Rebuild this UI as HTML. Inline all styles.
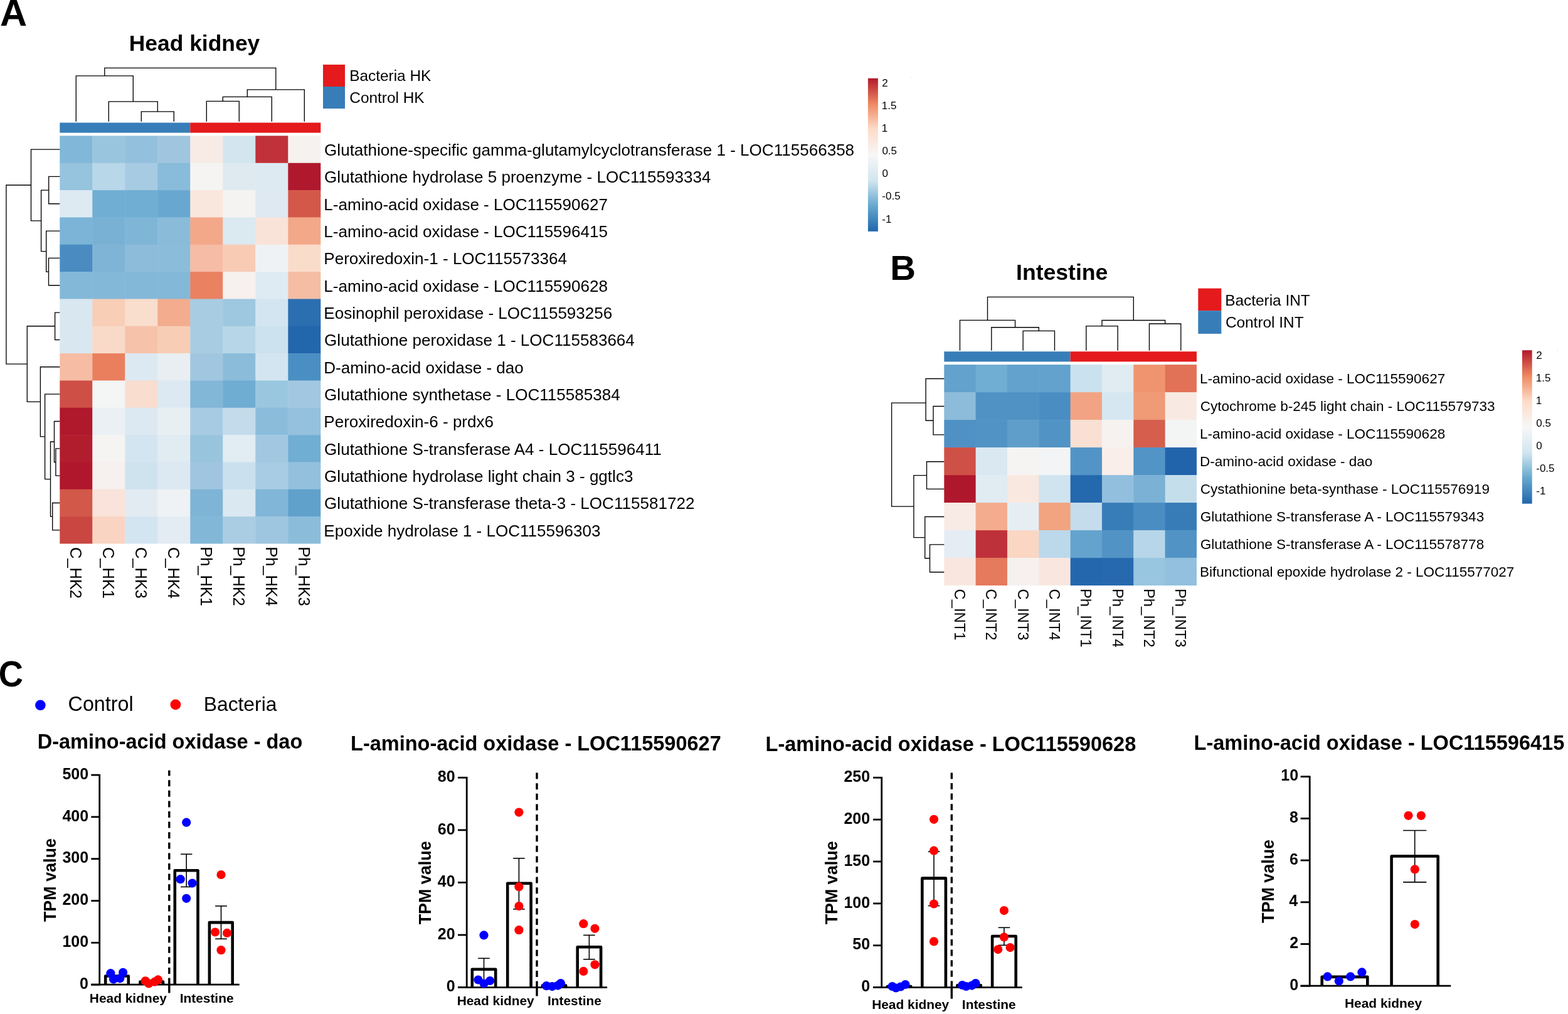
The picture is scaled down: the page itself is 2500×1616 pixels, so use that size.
<!DOCTYPE html>
<html><head><meta charset="utf-8"><title>Figure</title>
<style>html,body{margin:0;padding:0;background:#fff;} svg{display:block;}</style>
</head><body>
<svg width="2500" height="1616" viewBox="0 0 2500 1616" font-family="'Liberation Sans', Arial, Helvetica, sans-serif">
<rect x="0" y="0" width="2500" height="1616" fill="#FFFFFF"/>
<text x="0.11" y="40.6" font-size="59.7" font-weight="bold" fill="#000">A</text>
<text x="205.8" y="81.1" font-size="35.4" font-weight="bold" fill="#000">Head kidney</text>
<rect x="95.3" y="195.5" width="208" height="16.1" fill="#377EB8"/>
<rect x="303.3" y="195.5" width="208" height="16.1" fill="#E41A1C"/>
<rect x="95.3" y="216.4" width="52.5" height="43.84" fill="#81B7D8"/>
<rect x="147.3" y="216.4" width="52.5" height="43.84" fill="#9AC5DF"/>
<rect x="199.3" y="216.4" width="52.5" height="43.84" fill="#93C0DD"/>
<rect x="251.3" y="216.4" width="52.5" height="43.84" fill="#A0C6DF"/>
<rect x="303.3" y="216.4" width="52.5" height="43.84" fill="#F8EBE5"/>
<rect x="355.3" y="216.4" width="52.5" height="43.84" fill="#D3E5EF"/>
<rect x="407.3" y="216.4" width="52.5" height="43.84" fill="#C0313A"/>
<rect x="459.3" y="216.4" width="52" height="43.84" fill="#F6F2EF"/>
<rect x="95.3" y="259.74" width="52.5" height="43.84" fill="#96C3DE"/>
<rect x="147.3" y="259.74" width="52.5" height="43.84" fill="#B8D7E9"/>
<rect x="199.3" y="259.74" width="52.5" height="43.84" fill="#A7CBE2"/>
<rect x="251.3" y="259.74" width="52.5" height="43.84" fill="#89BBDA"/>
<rect x="303.3" y="259.74" width="52.5" height="43.84" fill="#F5F4F3"/>
<rect x="355.3" y="259.74" width="52.5" height="43.84" fill="#DFEAF0"/>
<rect x="407.3" y="259.74" width="52.5" height="43.84" fill="#DDEAF2"/>
<rect x="459.3" y="259.74" width="52" height="43.84" fill="#B0182D"/>
<rect x="95.3" y="303.08" width="52.5" height="43.84" fill="#DDEAF2"/>
<rect x="147.3" y="303.08" width="52.5" height="43.84" fill="#70AED4"/>
<rect x="199.3" y="303.08" width="52.5" height="43.84" fill="#70AED4"/>
<rect x="251.3" y="303.08" width="52.5" height="43.84" fill="#68A8D0"/>
<rect x="303.3" y="303.08" width="52.5" height="43.84" fill="#F9E6DD"/>
<rect x="355.3" y="303.08" width="52.5" height="43.84" fill="#F5F3F1"/>
<rect x="407.3" y="303.08" width="52.5" height="43.84" fill="#DEE9F1"/>
<rect x="459.3" y="303.08" width="52" height="43.84" fill="#D4584A"/>
<rect x="95.3" y="346.42" width="52.5" height="43.84" fill="#7BB4D6"/>
<rect x="147.3" y="346.42" width="52.5" height="43.84" fill="#78B1D4"/>
<rect x="199.3" y="346.42" width="52.5" height="43.84" fill="#7FB5D7"/>
<rect x="251.3" y="346.42" width="52.5" height="43.84" fill="#8ABCDA"/>
<rect x="303.3" y="346.42" width="52.5" height="43.84" fill="#F3A889"/>
<rect x="355.3" y="346.42" width="52.5" height="43.84" fill="#DBE9F1"/>
<rect x="407.3" y="346.42" width="52.5" height="43.84" fill="#F9E3D9"/>
<rect x="459.3" y="346.42" width="52" height="43.84" fill="#F3A889"/>
<rect x="95.3" y="389.76" width="52.5" height="43.84" fill="#4A8CC2"/>
<rect x="147.3" y="389.76" width="52.5" height="43.84" fill="#7FB4D6"/>
<rect x="199.3" y="389.76" width="52.5" height="43.84" fill="#8CBCDA"/>
<rect x="251.3" y="389.76" width="52.5" height="43.84" fill="#8BBCDA"/>
<rect x="303.3" y="389.76" width="52.5" height="43.84" fill="#F6BCA5"/>
<rect x="355.3" y="389.76" width="52.5" height="43.84" fill="#F8CBB5"/>
<rect x="407.3" y="389.76" width="52.5" height="43.84" fill="#EFF2F4"/>
<rect x="459.3" y="389.76" width="52" height="43.84" fill="#FADCCB"/>
<rect x="95.3" y="433.1" width="52.5" height="43.84" fill="#83B8D8"/>
<rect x="147.3" y="433.1" width="52.5" height="43.84" fill="#83B8D8"/>
<rect x="199.3" y="433.1" width="52.5" height="43.84" fill="#83B8D8"/>
<rect x="251.3" y="433.1" width="52.5" height="43.84" fill="#83B8D8"/>
<rect x="303.3" y="433.1" width="52.5" height="43.84" fill="#EA8161"/>
<rect x="355.3" y="433.1" width="52.5" height="43.84" fill="#F6F0EE"/>
<rect x="407.3" y="433.1" width="52.5" height="43.84" fill="#DEEBF2"/>
<rect x="459.3" y="433.1" width="52" height="43.84" fill="#F5BDA4"/>
<rect x="95.3" y="476.44" width="52.5" height="43.84" fill="#D9E7F1"/>
<rect x="147.3" y="476.44" width="52.5" height="43.84" fill="#F8CEB7"/>
<rect x="199.3" y="476.44" width="52.5" height="43.84" fill="#F9DDCD"/>
<rect x="251.3" y="476.44" width="52.5" height="43.84" fill="#F3AC8E"/>
<rect x="303.3" y="476.44" width="52.5" height="43.84" fill="#A8CCE2"/>
<rect x="355.3" y="476.44" width="52.5" height="43.84" fill="#9EC7E0"/>
<rect x="407.3" y="476.44" width="52.5" height="43.84" fill="#D3E5F0"/>
<rect x="459.3" y="476.44" width="52" height="43.84" fill="#2B6FB1"/>
<rect x="95.3" y="519.78" width="52.5" height="43.84" fill="#D9E7F1"/>
<rect x="147.3" y="519.78" width="52.5" height="43.84" fill="#F9DAC8"/>
<rect x="199.3" y="519.78" width="52.5" height="43.84" fill="#F6C3AA"/>
<rect x="251.3" y="519.78" width="52.5" height="43.84" fill="#F8CDB6"/>
<rect x="303.3" y="519.78" width="52.5" height="43.84" fill="#A8CCE2"/>
<rect x="355.3" y="519.78" width="52.5" height="43.84" fill="#B7D7E8"/>
<rect x="407.3" y="519.78" width="52.5" height="43.84" fill="#CCE2EE"/>
<rect x="459.3" y="519.78" width="52" height="43.84" fill="#2266AC"/>
<rect x="95.3" y="563.12" width="52.5" height="43.84" fill="#F6BDA4"/>
<rect x="147.3" y="563.12" width="52.5" height="43.84" fill="#EA7F5E"/>
<rect x="199.3" y="563.12" width="52.5" height="43.84" fill="#DCE9F2"/>
<rect x="251.3" y="563.12" width="52.5" height="43.84" fill="#E8EEF2"/>
<rect x="303.3" y="563.12" width="52.5" height="43.84" fill="#A1C6E0"/>
<rect x="355.3" y="563.12" width="52.5" height="43.84" fill="#8BBCDA"/>
<rect x="407.3" y="563.12" width="52.5" height="43.84" fill="#D3E5F0"/>
<rect x="459.3" y="563.12" width="52" height="43.84" fill="#4A8FC3"/>
<rect x="95.3" y="606.46" width="52.5" height="43.84" fill="#CE4F45"/>
<rect x="147.3" y="606.46" width="52.5" height="43.84" fill="#F4F5F5"/>
<rect x="199.3" y="606.46" width="52.5" height="43.84" fill="#F9DDCE"/>
<rect x="251.3" y="606.46" width="52.5" height="43.84" fill="#DDE9F2"/>
<rect x="303.3" y="606.46" width="52.5" height="43.84" fill="#83B7D8"/>
<rect x="355.3" y="606.46" width="52.5" height="43.84" fill="#6FADD3"/>
<rect x="407.3" y="606.46" width="52.5" height="43.84" fill="#9AC7E0"/>
<rect x="459.3" y="606.46" width="52" height="43.84" fill="#A2C8E1"/>
<rect x="95.3" y="649.8" width="52.5" height="43.84" fill="#B0182C"/>
<rect x="147.3" y="649.8" width="52.5" height="43.84" fill="#EAF0F4"/>
<rect x="199.3" y="649.8" width="52.5" height="43.84" fill="#DDE9F2"/>
<rect x="251.3" y="649.8" width="52.5" height="43.84" fill="#E8EFF3"/>
<rect x="303.3" y="649.8" width="52.5" height="43.84" fill="#A7CBE2"/>
<rect x="355.3" y="649.8" width="52.5" height="43.84" fill="#C3DBEB"/>
<rect x="407.3" y="649.8" width="52.5" height="43.84" fill="#8BBDDB"/>
<rect x="459.3" y="649.8" width="52" height="43.84" fill="#94C1DE"/>
<rect x="95.3" y="693.14" width="52.5" height="43.84" fill="#B21D2E"/>
<rect x="147.3" y="693.14" width="52.5" height="43.84" fill="#F5F4F3"/>
<rect x="199.3" y="693.14" width="52.5" height="43.84" fill="#D3E5F0"/>
<rect x="251.3" y="693.14" width="52.5" height="43.84" fill="#E0EBF2"/>
<rect x="303.3" y="693.14" width="52.5" height="43.84" fill="#98C4DE"/>
<rect x="355.3" y="693.14" width="52.5" height="43.84" fill="#E1ECF3"/>
<rect x="407.3" y="693.14" width="52.5" height="43.84" fill="#A2C8E1"/>
<rect x="459.3" y="693.14" width="52" height="43.84" fill="#71AED4"/>
<rect x="95.3" y="736.48" width="52.5" height="43.84" fill="#B0172C"/>
<rect x="147.3" y="736.48" width="52.5" height="43.84" fill="#F6F0EE"/>
<rect x="199.3" y="736.48" width="52.5" height="43.84" fill="#CFE3EF"/>
<rect x="251.3" y="736.48" width="52.5" height="43.84" fill="#DDE9F2"/>
<rect x="303.3" y="736.48" width="52.5" height="43.84" fill="#A0C5E0"/>
<rect x="355.3" y="736.48" width="52.5" height="43.84" fill="#CAE0EE"/>
<rect x="407.3" y="736.48" width="52.5" height="43.84" fill="#A8CCE3"/>
<rect x="459.3" y="736.48" width="52" height="43.84" fill="#93C1DD"/>
<rect x="95.3" y="779.82" width="52.5" height="43.84" fill="#D25849"/>
<rect x="147.3" y="779.82" width="52.5" height="43.84" fill="#F9E3DA"/>
<rect x="199.3" y="779.82" width="52.5" height="43.84" fill="#E3EBF2"/>
<rect x="251.3" y="779.82" width="52.5" height="43.84" fill="#EEF2F4"/>
<rect x="303.3" y="779.82" width="52.5" height="43.84" fill="#7EB4D6"/>
<rect x="355.3" y="779.82" width="52.5" height="43.84" fill="#DAE8F1"/>
<rect x="407.3" y="779.82" width="52.5" height="43.84" fill="#81B6D8"/>
<rect x="459.3" y="779.82" width="52" height="43.84" fill="#60A1CC"/>
<rect x="95.3" y="823.16" width="52.5" height="43.34" fill="#C94641"/>
<rect x="147.3" y="823.16" width="52.5" height="43.34" fill="#FAD4C2"/>
<rect x="199.3" y="823.16" width="52.5" height="43.34" fill="#D3E5F1"/>
<rect x="251.3" y="823.16" width="52.5" height="43.34" fill="#E3EBF3"/>
<rect x="303.3" y="823.16" width="52.5" height="43.34" fill="#82B7D8"/>
<rect x="355.3" y="823.16" width="52.5" height="43.34" fill="#AACDE3"/>
<rect x="407.3" y="823.16" width="52.5" height="43.34" fill="#9FC6E0"/>
<rect x="459.3" y="823.16" width="52" height="43.34" fill="#8BBDDB"/>
<path d="M225.3,193.8V177.8H277.3V193.8M173.3,193.8V161.9H251.3V177.8M121.3,193.8V120.8H212.3V161.9M329.3,193.8V161.3H381.3V193.8M355.3,161.3V154.4H433.3V193.8M394.3,154.4V142.8H485.3V193.8M166.8,120.8V108.4H439.8V142.8" fill="none" stroke="#000" stroke-width="1.35" stroke-linecap="butt" stroke-linejoin="miter"/>
<path d="M95.3,281.41H77.7V324.75H95.3M95.3,411.43H77.5V454.77H95.3M95.3,368.09H73.7V433.1H77.5M77.7,303.08H65.6V400.6H73.7M95.3,238.07H49.5V351.84H65.6M95.3,498.11H87.6V541.45H95.3M95.3,714.81H88.9V758.15H95.3M95.3,671.47H86.5V736.48H88.9M95.3,801.49H83.7V844.83H95.3M86.5,703.98H80.5V823.16H83.7M95.3,628.13H71.6V763.57H80.5M95.3,584.79H64.4V695.85H71.6M87.6,519.78H43.3V640.32H64.4M49.5,294.95H9.9V580.05H43.3" fill="none" stroke="#000" stroke-width="1.35" stroke-linecap="butt" stroke-linejoin="miter"/>
<text x="517.1" y="248.07" font-size="26.05" fill="#000">Glutathione-specific gamma-glutamylcyclotransferase 1 - LOC115566358</text>
<text x="517.1" y="291.41" font-size="26.05" fill="#000">Glutathione hydrolase 5 proenzyme - LOC115593334</text>
<text x="516.32" y="334.75" font-size="26.05" fill="#000">L-amino-acid oxidase - LOC115590627</text>
<text x="516.32" y="378.09" font-size="26.05" fill="#000">L-amino-acid oxidase - LOC115596415</text>
<text x="516.32" y="421.43" font-size="26.05" fill="#000">Peroxiredoxin-1 - LOC115573364</text>
<text x="516.32" y="464.77" font-size="26.05" fill="#000">L-amino-acid oxidase - LOC115590628</text>
<text x="516.32" y="508.11" font-size="26.05" fill="#000">Eosinophil peroxidase - LOC115593256</text>
<text x="517.1" y="551.45" font-size="26.05" fill="#000">Glutathione peroxidase 1 - LOC115583664</text>
<text x="516.32" y="594.79" font-size="26.05" fill="#000">D-amino-acid oxidase - dao</text>
<text x="517.1" y="638.13" font-size="26.05" fill="#000">Glutathione synthetase - LOC115585384</text>
<text x="516.32" y="681.47" font-size="26.05" fill="#000">Peroxiredoxin-6 - prdx6</text>
<text x="517.1" y="724.81" font-size="26.05" fill="#000">Glutathione S-transferase A4 - LOC115596411</text>
<text x="517.1" y="768.15" font-size="26.05" fill="#000">Glutathione hydrolase light chain 3 - ggtlc3</text>
<text x="517.1" y="811.49" font-size="26.05" fill="#000">Glutathione S-transferase theta-3 - LOC115581722</text>
<text x="516.32" y="854.83" font-size="26.05" fill="#000">Epoxide hydrolase 1 - LOC115596303</text>
<text transform="translate(112.16,872.03) rotate(90) scale(0.96,1)" font-size="26.5">C_HK2</text>
<text transform="translate(164.16,872.03) rotate(90) scale(0.96,1)" font-size="26.5">C_HK1</text>
<text transform="translate(216.16,872.03) rotate(90) scale(0.96,1)" font-size="26.5">C_HK3</text>
<text transform="translate(268.16,872.03) rotate(90) scale(0.96,1)" font-size="26.5">C_HK4</text>
<text transform="translate(320.16,871.26) rotate(90) scale(0.96,1)" font-size="26.5">Ph_HK1</text>
<text transform="translate(372.16,871.26) rotate(90) scale(0.96,1)" font-size="26.5">Ph_HK2</text>
<text transform="translate(424.16,871.26) rotate(90) scale(0.96,1)" font-size="26.5">Ph_HK4</text>
<text transform="translate(476.16,871.26) rotate(90) scale(0.96,1)" font-size="26.5">Ph_HK3</text>
<rect x="515" y="103" width="35" height="35" fill="#E41A1C"/>
<rect x="515" y="138" width="35" height="35" fill="#377EB8"/>
<text x="557.15" y="129.4" font-size="24.4" fill="#000">Bacteria HK</text>
<text x="557.28" y="164.1" font-size="24.4" fill="#000">Control HK</text>
<defs><linearGradient id="gA" x1="0" y1="0" x2="0" y2="1"><stop offset="0" stop-color="#B2182B"/><stop offset="0.17" stop-color="#EF8A62"/><stop offset="0.33" stop-color="#FDDBC7"/><stop offset="0.5" stop-color="#F7F7F7"/><stop offset="0.67" stop-color="#D1E5F0"/><stop offset="0.83" stop-color="#67A9CF"/><stop offset="1" stop-color="#2166AC"/></linearGradient></defs>
<rect x="1383.9" y="124.8" width="16" height="244" fill="url(#gA)"/>
<text x="1406.25" y="138.09" font-size="17" fill="#000">2</text>
<text x="1405.82" y="174.16" font-size="17" fill="#000">1.5</text>
<text x="1405.82" y="210.23" font-size="17" fill="#000">1</text>
<text x="1406.42" y="246.3" font-size="17" fill="#000">0.5</text>
<text x="1406.42" y="282.37" font-size="17" fill="#000">0</text>
<text x="1406.33" y="318.44" font-size="17" fill="#000">-0.5</text>
<text x="1406.33" y="354.51" font-size="17" fill="#000">-1</text>
<rect x="1452.6" y="122.6" width="1" height="1" fill="#c8c8c8"/>
<text x="1419.23" y="445.8" font-size="56.4" font-weight="bold" fill="#000">B</text>
<text x="1620.09" y="446.4" font-size="35.6" font-weight="bold" fill="#000">Intestine</text>
<rect x="1505.3" y="560.2" width="201.32" height="16.2" fill="#377EB8"/>
<rect x="1706.62" y="560.2" width="201.32" height="16.2" fill="#E41A1C"/>
<rect x="1505.3" y="581.1" width="50.83" height="44.5" fill="#62A2CD"/>
<rect x="1555.63" y="581.1" width="50.83" height="44.5" fill="#70AED3"/>
<rect x="1605.96" y="581.1" width="50.83" height="44.5" fill="#62A2CC"/>
<rect x="1656.29" y="581.1" width="50.83" height="44.5" fill="#62A2CC"/>
<rect x="1706.62" y="581.1" width="50.83" height="44.5" fill="#CAE1EE"/>
<rect x="1756.95" y="581.1" width="50.83" height="44.5" fill="#E1EBF2"/>
<rect x="1807.28" y="581.1" width="50.83" height="44.5" fill="#F0946F"/>
<rect x="1857.61" y="581.1" width="50.33" height="44.5" fill="#E27257"/>
<rect x="1505.3" y="625.1" width="50.83" height="44.5" fill="#8CBCDA"/>
<rect x="1555.63" y="625.1" width="50.83" height="44.5" fill="#5092C4"/>
<rect x="1605.96" y="625.1" width="50.83" height="44.5" fill="#5092C4"/>
<rect x="1656.29" y="625.1" width="50.83" height="44.5" fill="#4A8DC3"/>
<rect x="1706.62" y="625.1" width="50.83" height="44.5" fill="#F2A383"/>
<rect x="1756.95" y="625.1" width="50.83" height="44.5" fill="#D6E7F1"/>
<rect x="1807.28" y="625.1" width="50.83" height="44.5" fill="#F09A76"/>
<rect x="1857.61" y="625.1" width="50.33" height="44.5" fill="#F8EAE2"/>
<rect x="1505.3" y="669.1" width="50.83" height="44.5" fill="#4F91C4"/>
<rect x="1555.63" y="669.1" width="50.83" height="44.5" fill="#5293C5"/>
<rect x="1605.96" y="669.1" width="50.83" height="44.5" fill="#5F9ECB"/>
<rect x="1656.29" y="669.1" width="50.83" height="44.5" fill="#5293C5"/>
<rect x="1706.62" y="669.1" width="50.83" height="44.5" fill="#F9E0D3"/>
<rect x="1756.95" y="669.1" width="50.83" height="44.5" fill="#F6F2EF"/>
<rect x="1807.28" y="669.1" width="50.83" height="44.5" fill="#D55E4D"/>
<rect x="1857.61" y="669.1" width="50.33" height="44.5" fill="#F3F5F5"/>
<rect x="1505.3" y="713.1" width="50.83" height="44.5" fill="#CE5046"/>
<rect x="1555.63" y="713.1" width="50.83" height="44.5" fill="#DAE8F1"/>
<rect x="1605.96" y="713.1" width="50.83" height="44.5" fill="#F5F4F3"/>
<rect x="1656.29" y="713.1" width="50.83" height="44.5" fill="#F3F4F5"/>
<rect x="1706.62" y="713.1" width="50.83" height="44.5" fill="#5394C6"/>
<rect x="1756.95" y="713.1" width="50.83" height="44.5" fill="#F9EEE9"/>
<rect x="1807.28" y="713.1" width="50.83" height="44.5" fill="#5294C6"/>
<rect x="1857.61" y="713.1" width="50.33" height="44.5" fill="#2264AC"/>
<rect x="1505.3" y="757.1" width="50.83" height="44.5" fill="#AF172C"/>
<rect x="1555.63" y="757.1" width="50.83" height="44.5" fill="#E0EBF2"/>
<rect x="1605.96" y="757.1" width="50.83" height="44.5" fill="#F9E8E0"/>
<rect x="1656.29" y="757.1" width="50.83" height="44.5" fill="#D0E4F0"/>
<rect x="1706.62" y="757.1" width="50.83" height="44.5" fill="#2468AD"/>
<rect x="1756.95" y="757.1" width="50.83" height="44.5" fill="#93BFDE"/>
<rect x="1807.28" y="757.1" width="50.83" height="44.5" fill="#7BB1D5"/>
<rect x="1857.61" y="757.1" width="50.33" height="44.5" fill="#C5DEEC"/>
<rect x="1505.3" y="801.1" width="50.83" height="44.5" fill="#F8EAE4"/>
<rect x="1555.63" y="801.1" width="50.83" height="44.5" fill="#F3AD8E"/>
<rect x="1605.96" y="801.1" width="50.83" height="44.5" fill="#E6EEF4"/>
<rect x="1656.29" y="801.1" width="50.83" height="44.5" fill="#F2A481"/>
<rect x="1706.62" y="801.1" width="50.83" height="44.5" fill="#C5DCEC"/>
<rect x="1756.95" y="801.1" width="50.83" height="44.5" fill="#377EB8"/>
<rect x="1807.28" y="801.1" width="50.83" height="44.5" fill="#4A8DC3"/>
<rect x="1857.61" y="801.1" width="50.33" height="44.5" fill="#377CB7"/>
<rect x="1505.3" y="845.1" width="50.83" height="44.5" fill="#E5EDF4"/>
<rect x="1555.63" y="845.1" width="50.83" height="44.5" fill="#BF313A"/>
<rect x="1605.96" y="845.1" width="50.83" height="44.5" fill="#FAD6C3"/>
<rect x="1656.29" y="845.1" width="50.83" height="44.5" fill="#BCD9EB"/>
<rect x="1706.62" y="845.1" width="50.83" height="44.5" fill="#63A3CD"/>
<rect x="1756.95" y="845.1" width="50.83" height="44.5" fill="#5293C5"/>
<rect x="1807.28" y="845.1" width="50.83" height="44.5" fill="#B7D6E9"/>
<rect x="1857.61" y="845.1" width="50.33" height="44.5" fill="#5293C5"/>
<rect x="1505.3" y="889.1" width="50.83" height="44" fill="#F9E7DF"/>
<rect x="1555.63" y="889.1" width="50.83" height="44" fill="#E57A5D"/>
<rect x="1605.96" y="889.1" width="50.83" height="44" fill="#F6F1EF"/>
<rect x="1656.29" y="889.1" width="50.83" height="44" fill="#F9E7DF"/>
<rect x="1706.62" y="889.1" width="50.83" height="44" fill="#2467AD"/>
<rect x="1756.95" y="889.1" width="50.83" height="44" fill="#2769AF"/>
<rect x="1807.28" y="889.1" width="50.83" height="44" fill="#98C5E0"/>
<rect x="1857.61" y="889.1" width="50.33" height="44" fill="#92C0DE"/>
<path d="M1631.12,558.8V527.4H1681.45V558.8M1580.8,558.8V521.7H1656.29V527.4M1530.46,558.8V510.3H1618.54V521.7M1731.78,558.8V519.6H1782.12V558.8M1832.44,558.8V516H1882.77V558.8M1756.95,519.6V510.5H1857.61V516M1574.5,510.3V473.4H1807.28V510.5" fill="none" stroke="#000" stroke-width="1.35" stroke-linecap="butt" stroke-linejoin="miter"/>
<path d="M1505.3,647.5H1488V692.9H1505.3M1505.3,603.5H1476.1V670.2H1488M1505.3,735.7H1477.5V779.4H1505.3M1505.3,867.8H1482.5V911.7H1505.3M1505.3,823.5H1474.7V889.75H1482.5M1477.5,757.55H1456.9V856.62H1474.7M1476.1,642.1H1421.6V807.09H1456.9" fill="none" stroke="#000" stroke-width="1.35" stroke-linecap="butt" stroke-linejoin="miter"/>
<text x="1913.1" y="611.4" font-size="22.5" fill="#000">L-amino-acid oxidase - LOC115590627</text>
<text x="1913.78" y="655.4" font-size="22.5" fill="#000">Cytochrome b-245 light chain - LOC115579733</text>
<text x="1913.1" y="699.4" font-size="22.5" fill="#000">L-amino-acid oxidase - LOC115590628</text>
<text x="1913.1" y="743.4" font-size="22.5" fill="#000">D-amino-acid oxidase - dao</text>
<text x="1913.78" y="787.4" font-size="22.5" fill="#000">Cystathionine beta-synthase - LOC115576919</text>
<text x="1913.78" y="831.4" font-size="22.5" fill="#000">Glutathione S-transferase A - LOC115579343</text>
<text x="1913.78" y="875.4" font-size="22.5" fill="#000">Glutathione S-transferase A - LOC115578778</text>
<text x="1913.1" y="919.4" font-size="22.5" fill="#000">Bifunctional epoxide hydrolase 2 - LOC115577027</text>
<text transform="translate(1522.01,938.61) rotate(90) scale(0.97,1)" font-size="24.5">C_INT1</text>
<text transform="translate(1572.34,938.61) rotate(90) scale(0.97,1)" font-size="24.5">C_INT2</text>
<text transform="translate(1622.67,938.61) rotate(90) scale(0.97,1)" font-size="24.5">C_INT3</text>
<text transform="translate(1673,938.61) rotate(90) scale(0.97,1)" font-size="24.5">C_INT4</text>
<text transform="translate(1723.33,937.89) rotate(90) scale(0.97,1)" font-size="24.5">Ph_INT1</text>
<text transform="translate(1773.66,937.89) rotate(90) scale(0.97,1)" font-size="24.5">Ph_INT4</text>
<text transform="translate(1823.99,937.89) rotate(90) scale(0.97,1)" font-size="24.5">Ph_INT2</text>
<text transform="translate(1874.32,937.89) rotate(90) scale(0.97,1)" font-size="24.5">Ph_INT3</text>
<rect x="1910.3" y="459.6" width="37" height="35.6" fill="#E41A1C"/>
<rect x="1910.3" y="495.2" width="37" height="36.7" fill="#377EB8"/>
<text x="1953.15" y="486.9" font-size="24.4" fill="#000">Bacteria INT</text>
<text x="1953.88" y="522.2" font-size="24.4" fill="#000">Control INT</text>
<defs><linearGradient id="gB" x1="0" y1="0" x2="0" y2="1"><stop offset="0" stop-color="#B2182B"/><stop offset="0.17" stop-color="#EF8A62"/><stop offset="0.33" stop-color="#FDDBC7"/><stop offset="0.5" stop-color="#F7F7F7"/><stop offset="0.67" stop-color="#D1E5F0"/><stop offset="0.83" stop-color="#67A9CF"/><stop offset="1" stop-color="#2166AC"/></linearGradient></defs>
<rect x="2426.9" y="558.2" width="15.8" height="244.5" fill="url(#gB)"/>
<text x="2449.15" y="571.59" font-size="17" fill="#000">2</text>
<text x="2448.72" y="607.64" font-size="17" fill="#000">1.5</text>
<text x="2448.72" y="643.69" font-size="17" fill="#000">1</text>
<text x="2449.32" y="679.74" font-size="17" fill="#000">0.5</text>
<text x="2449.32" y="715.79" font-size="17" fill="#000">0</text>
<text x="2449.24" y="751.84" font-size="17" fill="#000">-0.5</text>
<text x="2449.24" y="787.89" font-size="17" fill="#000">-1</text>
<rect x="2483.1" y="558.2" width="1" height="1" fill="#c8c8c8"/>
<text transform="translate(-2.18,1094.4) scale(0.94,1)" font-size="57.7" font-weight="bold" fill="#000">C</text>
<circle cx="64.4" cy="1123.8" r="8.3" fill="#0000FF"/>
<circle cx="279.9" cy="1122.9" r="8.4" fill="#FF0000"/>
<text x="108.59" y="1132.6" font-size="32.3" fill="#000">Control</text>
<text x="324.76" y="1132.6" font-size="31.8" fill="#000">Bacteria</text>
<text x="59.69" y="1193.2" font-size="32.5" font-weight="bold" fill="#000">D-amino-acid oxidase - dao</text>
<path d="M168.2,1569.2V1555.5H204.8V1569.2" fill="#fff" stroke="#000" stroke-width="4.6" stroke-linejoin="round"/>
<path d="M223.5,1569.2V1564.66H260V1569.2" fill="#fff" stroke="#000" stroke-width="4.6" stroke-linejoin="round"/>
<path d="M278.8,1569.2V1387.32H315.5V1569.2" fill="#fff" stroke="#000" stroke-width="4.6" stroke-linejoin="round"/>
<path d="M333.9,1569.2V1470.17H370.7V1569.2" fill="#fff" stroke="#000" stroke-width="4.6" stroke-linejoin="round"/>
<line x1="297.2" y1="1413.4" x2="297.2" y2="1361.3" stroke="#000" stroke-width="1.6"/>
<line x1="288" y1="1361.3" x2="306.4" y2="1361.3" stroke="#000" stroke-width="1.6"/>
<line x1="288" y1="1413.4" x2="306.4" y2="1413.4" stroke="#000" stroke-width="1.6"/>
<line x1="352.5" y1="1496.3" x2="352.5" y2="1443.9" stroke="#000" stroke-width="1.6"/>
<line x1="343.1" y1="1443.9" x2="361.9" y2="1443.9" stroke="#000" stroke-width="1.6"/>
<line x1="343.1" y1="1496.3" x2="361.9" y2="1496.3" stroke="#000" stroke-width="1.6"/>
<line x1="269.8" y1="1227.8" x2="269.8" y2="1558.59" stroke="#000" stroke-width="3.4" stroke-dasharray="10,6.6" stroke-dashoffset="1.20"/>
<line x1="269.8" y1="1558.6" x2="269.8" y2="1582.5" stroke="#000" stroke-width="3.4"/>
<line x1="158.7" y1="1233.9" x2="158.7" y2="1570.6" stroke="#000" stroke-width="2.8" stroke-linecap="butt"/>
<line x1="145.3" y1="1569.2" x2="381.7" y2="1569.2" stroke="#000" stroke-width="2.8"/>
<line x1="145.3" y1="1569.2" x2="158.7" y2="1569.2" stroke="#000" stroke-width="2.8"/>
<text x="127.12" y="1575.88" font-size="25" font-weight="bold" fill="#000">0</text>
<line x1="145.3" y1="1502.38" x2="158.7" y2="1502.38" stroke="#000" stroke-width="2.8"/>
<text x="99.38" y="1509.06" font-size="25" font-weight="bold" fill="#000">100</text>
<line x1="145.3" y1="1435.56" x2="158.7" y2="1435.56" stroke="#000" stroke-width="2.8"/>
<text x="99.38" y="1442.23" font-size="25" font-weight="bold" fill="#000">200</text>
<line x1="145.3" y1="1368.74" x2="158.7" y2="1368.74" stroke="#000" stroke-width="2.8"/>
<text x="99.38" y="1375.41" font-size="25" font-weight="bold" fill="#000">300</text>
<line x1="145.3" y1="1301.92" x2="158.7" y2="1301.92" stroke="#000" stroke-width="2.8"/>
<text x="99.38" y="1308.59" font-size="25" font-weight="bold" fill="#000">400</text>
<line x1="145.3" y1="1235.1" x2="158.7" y2="1235.1" stroke="#000" stroke-width="2.8"/>
<text x="99.38" y="1241.77" font-size="25" font-weight="bold" fill="#000">500</text>
<circle cx="176.4" cy="1551.2" r="7.1" fill="#0000FF"/>
<circle cx="196.1" cy="1549.8" r="7.1" fill="#0000FF"/>
<circle cx="181" cy="1560.6" r="7.1" fill="#0000FF"/>
<circle cx="191.3" cy="1559.3" r="7.1" fill="#0000FF"/>
<circle cx="231.8" cy="1563.3" r="7.1" fill="#FF0000"/>
<circle cx="237.2" cy="1567.4" r="7.1" fill="#FF0000"/>
<circle cx="246.6" cy="1564.7" r="7.1" fill="#FF0000"/>
<circle cx="252" cy="1561.4" r="7.1" fill="#FF0000"/>
<circle cx="297.2" cy="1310.7" r="7.1" fill="#0000FF"/>
<circle cx="287.7" cy="1401.2" r="7.1" fill="#0000FF"/>
<circle cx="306.6" cy="1407.5" r="7.1" fill="#0000FF"/>
<circle cx="297.2" cy="1431.8" r="7.1" fill="#0000FF"/>
<circle cx="352.5" cy="1394" r="7.1" fill="#FF0000"/>
<circle cx="343.1" cy="1485.5" r="7.1" fill="#FF0000"/>
<circle cx="362" cy="1486.9" r="7.1" fill="#FF0000"/>
<circle cx="352.5" cy="1514.2" r="7.1" fill="#FF0000"/>
<text x="142.84" y="1597.6" font-size="20.9" font-weight="bold" fill="#000">Head kidney</text>
<text x="286.64" y="1597.6" font-size="20.9" font-weight="bold" fill="#000">Intestine</text>
<text transform="translate(89.4,1469.07) rotate(-90) scale(1,1)" font-size="26.9" font-weight="bold">TPM value</text>
<text x="559.09" y="1196" font-size="32.5" font-weight="bold" fill="#000">L-amino-acid oxidase - LOC115590627</text>
<path d="M752.8,1573.6V1544.77H790.2V1573.6" fill="#fff" stroke="#000" stroke-width="4.6" stroke-linejoin="round"/>
<path d="M809.2,1573.6V1407.7H846.6V1573.6" fill="#fff" stroke="#000" stroke-width="4.6" stroke-linejoin="round"/>
<path d="M865,1573.6V1570.67H902.2V1573.6" fill="#fff" stroke="#000" stroke-width="4.6" stroke-linejoin="round"/>
<path d="M920.7,1573.6V1509.25H958.1V1573.6" fill="#fff" stroke="#000" stroke-width="4.6" stroke-linejoin="round"/>
<line x1="771.5" y1="1562" x2="771.5" y2="1527.3" stroke="#000" stroke-width="1.6"/>
<line x1="762.2" y1="1527.3" x2="780.8" y2="1527.3" stroke="#000" stroke-width="1.6"/>
<line x1="762.2" y1="1562" x2="780.8" y2="1562" stroke="#000" stroke-width="1.6"/>
<line x1="827.4" y1="1448.9" x2="827.4" y2="1367.9" stroke="#000" stroke-width="1.6"/>
<line x1="818.1" y1="1367.9" x2="836.7" y2="1367.9" stroke="#000" stroke-width="1.6"/>
<line x1="818.1" y1="1448.9" x2="836.7" y2="1448.9" stroke="#000" stroke-width="1.6"/>
<line x1="939.4" y1="1528.8" x2="939.4" y2="1490.4" stroke="#000" stroke-width="1.6"/>
<line x1="930.1" y1="1490.4" x2="948.7" y2="1490.4" stroke="#000" stroke-width="1.6"/>
<line x1="930.1" y1="1528.8" x2="948.7" y2="1528.8" stroke="#000" stroke-width="1.6"/>
<line x1="856" y1="1231.1" x2="856" y2="1563.59" stroke="#000" stroke-width="3.4" stroke-dasharray="10,6.6" stroke-dashoffset="-0.50"/>
<line x1="856" y1="1563.6" x2="856" y2="1587.5" stroke="#000" stroke-width="3.4"/>
<line x1="744.2" y1="1238.1" x2="744.2" y2="1575" stroke="#000" stroke-width="2.8" stroke-linecap="butt"/>
<line x1="730" y1="1573.6" x2="968.1" y2="1573.6" stroke="#000" stroke-width="2.8"/>
<line x1="730" y1="1573.6" x2="744.2" y2="1573.6" stroke="#000" stroke-width="2.8"/>
<text x="711.73" y="1580.27" font-size="25" font-weight="bold" fill="#000">0</text>
<line x1="730" y1="1490.02" x2="744.2" y2="1490.02" stroke="#000" stroke-width="2.8"/>
<text x="697.85" y="1496.7" font-size="25" font-weight="bold" fill="#000">20</text>
<line x1="730" y1="1406.45" x2="744.2" y2="1406.45" stroke="#000" stroke-width="2.8"/>
<text x="697.85" y="1413.12" font-size="25" font-weight="bold" fill="#000">40</text>
<line x1="730" y1="1322.88" x2="744.2" y2="1322.88" stroke="#000" stroke-width="2.8"/>
<text x="697.85" y="1329.55" font-size="25" font-weight="bold" fill="#000">60</text>
<line x1="730" y1="1239.3" x2="744.2" y2="1239.3" stroke="#000" stroke-width="2.8"/>
<text x="697.85" y="1245.97" font-size="25" font-weight="bold" fill="#000">80</text>
<circle cx="771.5" cy="1490.4" r="7.1" fill="#0000FF"/>
<circle cx="762.4" cy="1561.5" r="7.1" fill="#0000FF"/>
<circle cx="771.5" cy="1567.5" r="7.1" fill="#0000FF"/>
<circle cx="781.2" cy="1563" r="7.1" fill="#0000FF"/>
<circle cx="827.4" cy="1294.6" r="7.1" fill="#FF0000"/>
<circle cx="827.4" cy="1413.2" r="7.1" fill="#FF0000"/>
<circle cx="827.4" cy="1444.1" r="7.1" fill="#FF0000"/>
<circle cx="827.4" cy="1482.2" r="7.1" fill="#FF0000"/>
<circle cx="871.3" cy="1571.2" r="7.1" fill="#0000FF"/>
<circle cx="880.4" cy="1572.1" r="7.1" fill="#0000FF"/>
<circle cx="889.5" cy="1570.6" r="7.1" fill="#0000FF"/>
<circle cx="894" cy="1567" r="7.1" fill="#0000FF"/>
<circle cx="930.3" cy="1472.2" r="7.1" fill="#FF0000"/>
<circle cx="948.5" cy="1479.8" r="7.1" fill="#FF0000"/>
<circle cx="948.5" cy="1537.3" r="7.1" fill="#FF0000"/>
<circle cx="930.3" cy="1547.9" r="7.1" fill="#FF0000"/>
<text x="728.64" y="1602.3" font-size="20.9" font-weight="bold" fill="#000">Head kidney</text>
<text x="872.94" y="1602.3" font-size="20.9" font-weight="bold" fill="#000">Intestine</text>
<text transform="translate(687.4,1473.37) rotate(-90) scale(1,1)" font-size="26.9" font-weight="bold">TPM value</text>
<text x="1220.59" y="1196.9" font-size="32.5" font-weight="bold" fill="#000">L-amino-acid oxidase - LOC115590628</text>
<path d="M1414.9,1573.6V1572H1452.3V1573.6" fill="#fff" stroke="#000" stroke-width="4.6" stroke-linejoin="round"/>
<path d="M1470.3,1573.6V1399.63H1507.9V1573.6" fill="#fff" stroke="#000" stroke-width="4.6" stroke-linejoin="round"/>
<path d="M1526.4,1573.6V1570.26H1563.8V1573.6" fill="#fff" stroke="#000" stroke-width="4.6" stroke-linejoin="round"/>
<path d="M1582.1,1573.6V1492.03H1619.7V1573.6" fill="#fff" stroke="#000" stroke-width="4.6" stroke-linejoin="round"/>
<line x1="1489" y1="1443.5" x2="1489" y2="1357.3" stroke="#000" stroke-width="1.6"/>
<line x1="1479.7" y1="1357.3" x2="1498.3" y2="1357.3" stroke="#000" stroke-width="1.6"/>
<line x1="1479.7" y1="1443.5" x2="1498.3" y2="1443.5" stroke="#000" stroke-width="1.6"/>
<line x1="1600.9" y1="1506.4" x2="1600.9" y2="1478.3" stroke="#000" stroke-width="1.6"/>
<line x1="1591.6" y1="1478.3" x2="1610.2" y2="1478.3" stroke="#000" stroke-width="1.6"/>
<line x1="1591.6" y1="1506.4" x2="1610.2" y2="1506.4" stroke="#000" stroke-width="1.6"/>
<line x1="1517.3" y1="1231.1" x2="1517.3" y2="1563.39" stroke="#000" stroke-width="3.4" stroke-dasharray="10,6.6" stroke-dashoffset="-0.30"/>
<line x1="1517.3" y1="1563.4" x2="1517.3" y2="1591.7" stroke="#000" stroke-width="3.4"/>
<line x1="1405.7" y1="1238.1" x2="1405.7" y2="1575" stroke="#000" stroke-width="2.8" stroke-linecap="butt"/>
<line x1="1392.1" y1="1573.6" x2="1629.7" y2="1573.6" stroke="#000" stroke-width="2.8"/>
<line x1="1392.1" y1="1573.6" x2="1405.7" y2="1573.6" stroke="#000" stroke-width="2.8"/>
<text x="1373.22" y="1580.27" font-size="25" font-weight="bold" fill="#000">0</text>
<line x1="1392.1" y1="1506.74" x2="1405.7" y2="1506.74" stroke="#000" stroke-width="2.8"/>
<text x="1359.35" y="1513.41" font-size="25" font-weight="bold" fill="#000">50</text>
<line x1="1392.1" y1="1439.88" x2="1405.7" y2="1439.88" stroke="#000" stroke-width="2.8"/>
<text x="1345.47" y="1446.55" font-size="25" font-weight="bold" fill="#000">100</text>
<line x1="1392.1" y1="1373.02" x2="1405.7" y2="1373.02" stroke="#000" stroke-width="2.8"/>
<text x="1345.47" y="1379.69" font-size="25" font-weight="bold" fill="#000">150</text>
<line x1="1392.1" y1="1306.16" x2="1405.7" y2="1306.16" stroke="#000" stroke-width="2.8"/>
<text x="1345.47" y="1312.83" font-size="25" font-weight="bold" fill="#000">200</text>
<line x1="1392.1" y1="1239.3" x2="1405.7" y2="1239.3" stroke="#000" stroke-width="2.8"/>
<text x="1345.47" y="1245.97" font-size="25" font-weight="bold" fill="#000">250</text>
<circle cx="1422.6" cy="1572" r="7.1" fill="#0000FF"/>
<circle cx="1428.5" cy="1574.5" r="7.1" fill="#0000FF"/>
<circle cx="1436" cy="1572.5" r="7.1" fill="#0000FF"/>
<circle cx="1443.5" cy="1569" r="7.1" fill="#0000FF"/>
<circle cx="1489" cy="1305.8" r="7.1" fill="#FF0000"/>
<circle cx="1489" cy="1355.7" r="7.1" fill="#FF0000"/>
<circle cx="1489" cy="1440.5" r="7.1" fill="#FF0000"/>
<circle cx="1489" cy="1500.4" r="7.1" fill="#FF0000"/>
<circle cx="1534.3" cy="1570" r="7.1" fill="#0000FF"/>
<circle cx="1540.4" cy="1572" r="7.1" fill="#0000FF"/>
<circle cx="1549.5" cy="1570.6" r="7.1" fill="#0000FF"/>
<circle cx="1555.5" cy="1567" r="7.1" fill="#0000FF"/>
<circle cx="1600.9" cy="1451.1" r="7.1" fill="#FF0000"/>
<circle cx="1600.9" cy="1493.4" r="7.1" fill="#FF0000"/>
<circle cx="1591.2" cy="1513.1" r="7.1" fill="#FF0000"/>
<circle cx="1610.6" cy="1510.1" r="7.1" fill="#FF0000"/>
<text x="1390.14" y="1607.5" font-size="20.9" font-weight="bold" fill="#000">Head kidney</text>
<text x="1533.84" y="1607.5" font-size="20.9" font-weight="bold" fill="#000">Intestine</text>
<text transform="translate(1334.6,1473.37) rotate(-90) scale(1,1)" font-size="26.9" font-weight="bold">TPM value</text>
<text x="1903.59" y="1194.8" font-size="32.5" font-weight="bold" fill="#000">L-amino-acid oxidase - LOC115596415</text>
<path d="M2107.7,1571.2V1556.86H2180.3V1571.2" fill="#fff" stroke="#000" stroke-width="4.6" stroke-linejoin="round"/>
<path d="M2218.6,1571.2V1364.43H2292.7V1571.2" fill="#fff" stroke="#000" stroke-width="4.6" stroke-linejoin="round"/>
<line x1="2255.7" y1="1405.9" x2="2255.7" y2="1323.5" stroke="#000" stroke-width="1.6"/>
<line x1="2237.1" y1="1323.5" x2="2274.3" y2="1323.5" stroke="#000" stroke-width="1.6"/>
<line x1="2237.1" y1="1405.9" x2="2274.3" y2="1405.9" stroke="#000" stroke-width="1.6"/>
<line x1="2088.2" y1="1236.5" x2="2088.2" y2="1572.6" stroke="#000" stroke-width="2.8" stroke-linecap="butt"/>
<line x1="2073.6" y1="1571.2" x2="2313.3" y2="1571.2" stroke="#000" stroke-width="2.8"/>
<line x1="2073.6" y1="1571.2" x2="2088.2" y2="1571.2" stroke="#000" stroke-width="2.8"/>
<text x="2056.22" y="1577.88" font-size="25" font-weight="bold" fill="#000">0</text>
<line x1="2073.6" y1="1504.5" x2="2088.2" y2="1504.5" stroke="#000" stroke-width="2.8"/>
<text x="2056.22" y="1511.17" font-size="25" font-weight="bold" fill="#000">2</text>
<line x1="2073.6" y1="1437.8" x2="2088.2" y2="1437.8" stroke="#000" stroke-width="2.8"/>
<text x="2055.35" y="1444.47" font-size="25" font-weight="bold" fill="#000">4</text>
<line x1="2073.6" y1="1371.1" x2="2088.2" y2="1371.1" stroke="#000" stroke-width="2.8"/>
<text x="2056.1" y="1377.78" font-size="25" font-weight="bold" fill="#000">6</text>
<line x1="2073.6" y1="1304.4" x2="2088.2" y2="1304.4" stroke="#000" stroke-width="2.8"/>
<text x="2055.97" y="1311.08" font-size="25" font-weight="bold" fill="#000">8</text>
<line x1="2073.6" y1="1237.7" x2="2088.2" y2="1237.7" stroke="#000" stroke-width="2.8"/>
<text x="2042.35" y="1244.38" font-size="25" font-weight="bold" fill="#000">10</text>
<circle cx="2245.5" cy="1299.8" r="7.1" fill="#FF0000"/>
<circle cx="2265.8" cy="1299.8" r="7.1" fill="#FF0000"/>
<circle cx="2255.8" cy="1385.4" r="7.1" fill="#FF0000"/>
<circle cx="2255.8" cy="1473.1" r="7.1" fill="#FF0000"/>
<circle cx="2116.6" cy="1556.4" r="7.1" fill="#0000FF"/>
<circle cx="2134.8" cy="1563.6" r="7.1" fill="#0000FF"/>
<circle cx="2153.2" cy="1556.4" r="7.1" fill="#0000FF"/>
<circle cx="2171.4" cy="1549.4" r="7.1" fill="#0000FF"/>
<text x="2144.04" y="1606.3" font-size="20.9" font-weight="bold" fill="#000">Head kidney</text>
<text transform="translate(2030.7,1470.97) rotate(-90) scale(1,1)" font-size="26.9" font-weight="bold">TPM value</text>
</svg>
</body></html>
